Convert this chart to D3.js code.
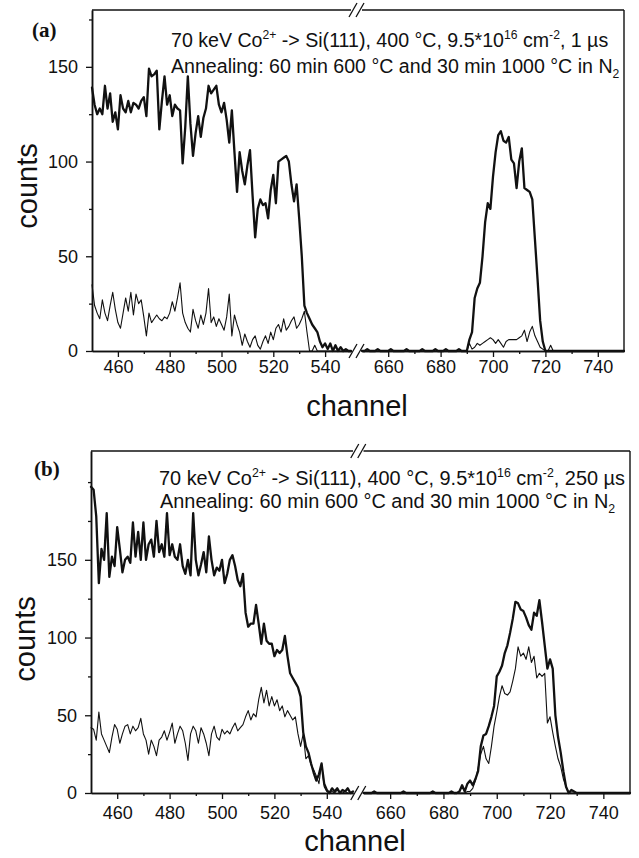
<!DOCTYPE html>
<html><head><meta charset="utf-8">
<script src="https://cdn.jsdelivr.net/npm/d3@7"></script>
<style>
html,body{margin:0;padding:0;background:#fff;}
svg{display:block;}
text{font-family:"Liberation Sans",Arial,Helvetica,sans-serif;fill:#111;}
</style></head><body>
<svg id="chart" width="639" height="858"></svg>
<script>
// ---------- data ----------
const channelsLow = d3.range(450, 551);   // channels left of the axis break
const channelsHigh = d3.range(650, 751);  // channels right of the axis break

const xTicksLow = [460, 480, 500, 520, 540];
const xMinorLow = [470, 490, 510, 530];
const xTicksHigh = [660, 680, 700, 720, 740];
const xMinorHigh = [670, 690, 710, 730];
const yTicksMajor = [0, 50, 100, 150];
const yMinorA = [25, 75, 125, 175];
const yMinorB = [25, 75, 125, 175, 200];

// panel (a): 1 µs
const aThickLow = [139,130,125,128,125,140,128,136,121,126,
 117,135,128,126,132,126,131,130,128,132,
 134,124,149,145,146,148,117,132,145,130,
 135,124,130,128,127,99,118,145,120,103,
 115,124,113,123,128,140,136,138,140,130,
 126,131,122,110,127,105,84,105,95,88,
 98,106,82,60,75,80,77,78,70,85,
 93,78,100,101,102,103,100,88,79,88,
 70,50,24,20,17,14,12,10,5,2,
 4,1,4,0,3,0,2,0,1,0,0];
const aThinLow = [35,24,20,17,27,20,16,24,31,22,
 15,12,20,28,21,31,19,30,25,27,
 18,8,20,15,17,19,17,16,18,17,
 20,26,21,28,36,20,15,12,10,22,
 16,12,19,14,20,33,15,18,13,17,
 14,11,18,30,8,19,14,10,3,9,
 5,2,6,8,3,1,5,8,4,10,
 6,12,14,10,17,11,13,16,18,12,
 14,17,21,10,0,0,3,0,0,0,
 0,0,0,0,0,0,0,0,0,0,0];
const aThickHigh = [0,0,1,0,0,0,1,0,0,0,
 0,1,0,0,0,0,0,1,0,0,
 0,0,0,1,0,0,0,0,1,0,
 0,0,1,0,0,0,0,1,0,0,
 0,6,10,28,33,36,50,68,78,75,
 92,105,114,116,111,110,113,101,99,86,
 100,107,86,85,84,80,59,38,16,5,
 0,0,0,0,0,0,0,0,0,0,
 0,0,0,0,0,0,0,0,0,0,
 0,0,0,0,0,0,0,0,0,0,0];
const aThinHigh = [0,0,0,0,0,0,0,0,0,0,
 0,0,0,0,0,0,0,0,0,0,
 0,0,0,0,0,0,0,0,0,0,
 0,0,0,0,0,0,0,0,0,0,
 0,4,1,2,4,3,4,5,6,7,
 6,4,6,4,2,5,6,6,6,6,
 7,8,11,5,10,13,8,5,2,1,
 0,0,3,0,0,0,0,0,0,0,
 0,0,0,0,0,0,0,0,0,0,
 0,0,0,0,0,0,0,0,0,0,0];

// panel (b): 250 µs
const bThickLow = [197,195,178,135,157,150,180,139,152,146,
 171,157,142,150,152,148,174,152,168,150,
 174,150,160,163,152,175,155,160,152,180,
 153,160,152,150,160,146,141,150,140,180,
 150,140,147,155,142,165,150,140,145,143,
 150,135,141,150,153,146,137,133,141,116,
 107,109,109,121,109,96,109,98,96,96,
 88,92,90,92,101,88,77,74,71,68,
 62,39,30,26,19,13,8,12,19,6,
 2,0,3,1,3,0,2,1,3,0,1];
const bThinLow = [42,41,34,52,38,34,30,26,36,44,
 41,32,38,43,44,38,43,40,42,48,
 38,34,25,34,30,24,34,36,40,34,
 39,45,32,38,43,40,32,21,38,43,
 40,32,42,38,32,24,38,43,36,34,
 41,38,40,38,42,45,40,42,44,49,
 53,47,51,49,60,68,58,66,56,62,
 56,60,53,56,49,53,50,47,49,38,
 30,38,22,24,18,15,11,6,19,4,
 1,0,1,0,2,0,0,1,0,0,0];
const bThickHigh = [0,0,0,0,1,0,0,0,0,0,
 0,0,0,0,0,1,0,0,0,0,
 0,0,0,0,0,0,1,0,0,0,
 0,0,0,1,0,0,1,5,1,6,
 8,5,9,14,30,37,38,43,49,56,
 75,78,82,90,95,103,112,123,122,118,
 117,113,108,105,116,114,124,110,95,80,
 86,80,50,36,26,14,4,0,2,1,
 0,0,0,0,0,0,0,0,0,0,
 0,0,0,0,0,0,0,0,0,0,0];
const bThinHigh = [0,0,0,0,0,0,0,0,0,0,
 0,0,0,0,0,0,0,0,0,0,
 0,0,0,0,0,0,0,0,0,0,
 0,0,0,0,0,0,0,0,0,1,
 1,3,8,16,25,30,22,19,30,43,
 52,62,69,64,63,65,72,80,94,88,
 90,86,94,84,88,74,77,75,77,45,
 49,39,30,22,17,9,4,0,0,0,
 0,0,0,0,0,0,0,0,0,0,
 0,0,0,0,0,0,0,0,0,0,0];

const textA1 = [{t:"70 keV Co"},{t:"2+",s:"sup"},{t:" -> Si(111), 400 °C, 9.5*10"},{t:"16",s:"sup"},{t:" cm"},{t:"-2",s:"sup"},{t:", 1 µs"}];
const textB1 = [{t:"70 keV Co"},{t:"2+",s:"sup"},{t:" -> Si(111), 400 °C, 9.5*10"},{t:"16",s:"sup"},{t:" cm"},{t:"-2",s:"sup"},{t:", 250 µs"}];
const textAnneal = [{t:"Annealing: 60 min 600 °C and 30 min 1000 °C in N"},{t:"2",s:"sub"}];

// ---------- drawing ----------
const svg = d3.select("#chart");

function richText(g, x, y, size, parts) {
  const t = g.append("text").attr("x", x).attr("y", y).style("font-size", size + "px");
  let shift = 0;
  parts.forEach(p => {
    const target = p.s === "sup" ? -0.42 * size : p.s === "sub" ? 0.25 * size : 0;
    const ts = t.append("tspan").attr("dy", target - shift).text(p.t);
    if (p.s) ts.style("font-size", (size * 0.62) + "px");
    shift = target;
  });
  return t;
}

function panel(cfg) {
  const g = svg.append("g");
  const xL = d3.scaleLinear().domain([450, 550]).range([cfg.left, cfg.brkL]);
  const xH = d3.scaleLinear().domain([650, 750]).range([cfg.brkR, cfg.right]);
  const y = d3.scaleLinear().domain([0, cfg.yMax]).range([cfg.bottom, cfg.top]);

  // curves
  const lineL = d3.line().x((d, i) => xL(channelsLow[i])).y(d => y(d));
  const lineH = d3.line().x((d, i) => xH(channelsHigh[i])).y(d => y(d));
  const curves = g.append("g").attr("fill", "none").attr("stroke", "#111")
      .attr("stroke-linejoin", "round").attr("stroke-linecap", "round");
  curves.append("path").attr("d", lineL(cfg.thinLow)).attr("stroke-width", 1.1);
  curves.append("path").attr("d", lineH(cfg.thinHigh)).attr("stroke-width", 1.1);
  curves.append("path").attr("d", lineL(cfg.thickLow)).attr("stroke-width", 2.3);
  curves.append("path").attr("d", lineH(cfg.thickHigh)).attr("stroke-width", 2.3);

  // bottom axes
  const styleAxis = sel => {
    sel.select(".domain").attr("stroke", "#111").attr("stroke-width", 1.5);
    sel.selectAll(".tick line").attr("stroke", "#111").attr("stroke-width", 1.3);
    sel.selectAll(".tick text").style("font-size", "18px")
       .style("font-family", '"Liberation Sans",Arial,sans-serif').attr("fill", "#111");
  };
  [[xL, xTicksLow, xMinorLow], [xH, xTicksHigh, xMinorHigh]].forEach(([sc, maj, min]) => {
    g.append("g").attr("transform", `translate(0,${cfg.bottom})`)
      .call(d3.axisBottom(sc).tickValues(min).tickSize(3).tickSizeOuter(0).tickFormat(""))
      .call(styleAxis);
    g.append("g").attr("transform", `translate(0,${cfg.bottom})`)
      .call(d3.axisBottom(sc).tickValues(maj).tickSize(6).tickSizeOuter(0).tickPadding(cfg.xPad).tickFormat(d3.format("d")))
      .call(styleAxis);
  });

  // left axis
  g.append("g").attr("transform", `translate(${cfg.left},0)`)
    .call(d3.axisLeft(y).tickValues(cfg.yMinor).tickSize(3).tickSizeOuter(0).tickFormat(""))
    .call(styleAxis);
  g.append("g").attr("transform", `translate(${cfg.left},0)`)
    .call(d3.axisLeft(y).tickValues(yTicksMajor).tickSize(6).tickSizeOuter(0).tickPadding(8).tickFormat(d3.format("d")))
    .call(styleAxis);

  // frame: top and right
  const frame = g.append("g").attr("stroke", "#111").attr("stroke-width", 1.4).attr("fill", "none");
  frame.append("line").attr("x1", cfg.left).attr("x2", cfg.brkL).attr("y1", cfg.top).attr("y2", cfg.top);
  frame.append("line").attr("x1", cfg.brkR).attr("x2", cfg.right).attr("y1", cfg.top).attr("y2", cfg.top);
  frame.append("line").attr("x1", cfg.right).attr("x2", cfg.right).attr("y1", cfg.top).attr("y2", cfg.bottom);

  // break marks
  const cx = (cfg.brkL + cfg.brkR) / 2;
  [cfg.top, cfg.bottom].forEach(yy => {
    [-3.5, 3.5].forEach(dx => {
      frame.append("line").attr("x1", cx + dx - 4).attr("y1", yy + 7)
        .attr("x2", cx + dx + 4).attr("y2", yy - 7).attr("stroke-width", 1.3);
    });
  });

  // titles
  g.append("text").attr("x", cfg.panelLabelX).attr("y", cfg.panelLabelY)
    .style("font-family", '"Liberation Serif","Times New Roman",serif').style("font-weight", "bold")
    .style("font-size", "21px").text(cfg.panelLabel);
  richText(g, cfg.t1x, cfg.t1y, cfg.tSize, cfg.text1);
  richText(g, cfg.t2x, cfg.t2y, cfg.tSize, textAnneal);

  g.append("text").attr("transform", `translate(${cfg.yTitleX},${cfg.yTitleY}) rotate(-90)`)
    .attr("text-anchor", "middle").style("font-size", "29px").text("counts");
  g.append("text").attr("x", cfg.xTitleX).attr("y", cfg.xTitleY)
    .attr("text-anchor", "middle").style("font-size", "29px").text("channel");
}

panel({
  left: 92, brkL: 351, brkR: 362, right: 624, top: 10, bottom: 351, yMax: 180,
  yMinor: yMinorA, xPad: 3,
  thickLow: aThickLow, thinLow: aThinLow, thickHigh: aThickHigh, thinHigh: aThinHigh,
  panelLabel: "(a)", panelLabelX: 32, panelLabelY: 37,
  text1: textA1, t1x: 171, t1y: 47, t2x: 171, t2y: 73, tSize: 19.6,
  yTitleX: 37, yTitleY: 186, xTitleX: 357, xTitleY: 416
});
panel({
  left: 91, brkL: 353, brkR: 363.5, right: 630, top: 451, bottom: 793, yMax: 220,
  yMinor: yMinorB, xPad: 7,
  thickLow: bThickLow, thinLow: bThinLow, thickHigh: bThickHigh, thinHigh: bThinHigh,
  panelLabel: "(b)", panelLabelX: 34, panelLabelY: 476,
  text1: textB1, t1x: 159, t1y: 485, t2x: 160, t2y: 508, tSize: 19.9,
  yTitleX: 35, yTitleY: 639, xTitleX: 355, xTitleY: 851
});
</script>
</body></html>
